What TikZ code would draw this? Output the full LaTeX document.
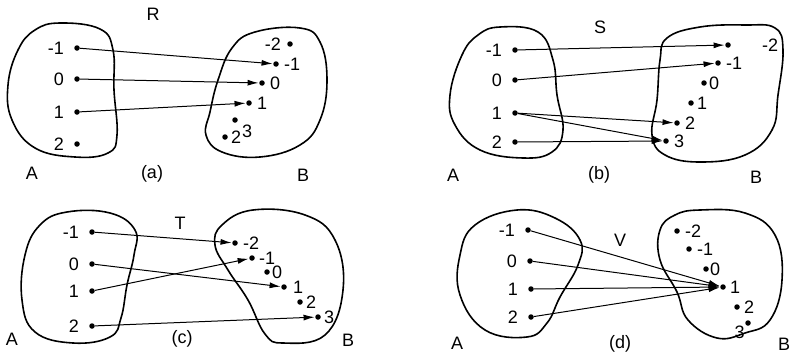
\documentclass[tikz,border=0pt]{standalone}
\usepackage{fontspec}
\setmainfont{Liberation Sans}
\usetikzlibrary{arrows.meta}
\tikzset{
  dot/.style={circle, fill, inner sep=0pt, minimum size=5.5pt},
  lab/.style={inner sep=1pt, font=\fontsize{18}{21}\selectfont},
  blob/.style={line width=1.6pt},
  arr/.style={line width=1pt, -{Latex[length=11pt,width=6pt]}, shorten >=0.5pt},
}
\begin{document}
\begin{tikzpicture}[x=1pt, y=-1pt]
	\useasboundingbox (0,0) rectangle (791,356);
	% set outlines
	\draw[blob] plot[smooth cycle, tension=0.7] coordinates {(60,23) (100,29) (113,50) (114,90) (117,135) (108,153) (75,157) (35,148) (12,120) (8,85) (18,50) (35,30)};
	\draw[blob] plot[smooth cycle, tension=0.7] coordinates {(232,48) (255,32) (300,28) (320,42) (327,80) (320,120) (300,145) (260,157) (222,152) (206,135) (210,112) (218,80)};
	\draw[blob] plot[smooth cycle, tension=0.7] coordinates {(500,27) (538,32) (553,60) (557,95) (563,130) (552,152) (523,158) (480,150) (455,125) (450,95) (462,55) (478,35)};
	\draw[blob] plot[smooth cycle, tension=0.7] coordinates {(667,38) (700,27) (745,25) (775,28) (783,50) (778,95) (772,130) (745,155) (700,162) (665,155) (652,135) (657,100) (660,60)};
	\draw[blob] plot[smooth cycle, tension=0.7] coordinates {(67,212) (110,213) (135,230) (134,255) (127,285) (121,318) (110,337) (73,343) (35,332) (22,300) (25,255) (40,225)};
	\draw[blob] plot[smooth cycle, tension=0.7] coordinates {(253,210) (305,215) (335,240) (343,290) (325,335) (283,343) (265,334) (248,300) (228,270) (215,245) (222,225)};
	\draw[blob] plot[smooth cycle, tension=0.7] coordinates {(517,210) (555,218) (580,240) (578,265) (560,297) (547,323) (527,337) (485,330) (460,295) (460,255) (475,225)};
	\draw[blob] plot[smooth cycle, tension=0.7] coordinates {(700,210) (745,213) (775,235) (782,280) (770,320) (745,333) (717,338) (688,320) (677,292) (660,260) (660,230) (675,215)};
	% points of A
	\foreach \n/\x/\y/\t in {aA1/77/48/-1, aA2/77/79/0, aA3/77/112/1, aA4/77/144/2,
	                         bA1/515/50/-1, bA2/515/80/0, bA3/515/113/1, bA4/515/142/2,
	                         cA1/92/232/-1, cA2/92/264/0, cA3/92/291/1, cA4/92/326/2,
	                         dA1/528/230/-1, dA2/530/261/0, dA3/531/289/1, dA4/531/317/2}
		\node[dot, label={[lab, label distance=9pt]left:\t}] (\n) at (\x,\y) {};
	% points of B
	\foreach \n/\x/\y/\t/\d/\s in {aB1/290/44/-2/left/5, aB2/276/64/-1/right/4, aB3/262/83/0/right/4,
	                               aB4/249/103/1/right/4, aB5/225/137/2/right/2, aB6/235/120/3/-30/4,
	                               bB1/728/45/-2/right/30, bB2/718/63/-1/right/4, bB3/704/83/0/right/1,
	                               bB4/691/103/1/right/2, bB5/677/123/2/right/4, bB6/666/141/3/right/4,
	                               cB1/235/243/-2/right/4, cB2/252/258/-1/right/3, cB3/267/272/0/right/1,
	                               cB4/284/287/1/right/5, cB5/300/302/2/right/2, cB6/318/317/3/right/2,
	                               dB1/677/231/-2/right/4, dB2/689/249/-1/right/4, dB3/706/269/0/right/0,
	                               dB4/723/287/1/right/3, dB5/737/307/2/right/3, dB6/748/323/3/below left/0}
		\node[dot, label={[lab, label distance=\s pt]\d:\t}] (\n) at (\x,\y) {};
	% relations
	\draw[arr] (aA1) -- (aB2);
	\draw[arr] (aA2) -- (aB3);
	\draw[arr] (aA3) -- (aB4);
	\draw[arr] (bA1) -- (bB1);
	\draw[arr] (bA2) -- (bB2);
	\draw[arr] (bA3) -- (bB5);
	\draw[arr] (bA3) -- (bB6);
	\draw[arr] (bA4) -- (bB6);
	\draw[arr] (cA1) -- (cB1);
	\draw[arr] (cA2) -- (cB4);
	\draw[arr] (cA3) -- (cB2);
	\draw[arr] (cA4) -- (cB6);
	\foreach \i in {1,...,4}
		\draw[arr] (dA\i) -- (dB4);
	% names
	\node[lab] (tR) at (153,14) {R};
	\node[lab] (tS) at (600,27) {S};
	\node[lab] (tT) at (180,223) {T};
	\node[lab] (tV) at (620,240) {V};
	\foreach \n/\x/\y/\t in {aA/32/173/A, aC/152/174/(a), aB/303/175/B,
	                         bA/453/175/A, bC/599/175/(b), bB/756/177/B,
	                         cA/12/339/A, cC/182/339/(c), cB/348/340/B,
	                         dA/457/343/A, dC/620/344/(d), dB/784/344/B}
		\node[lab] (n\n) at (\x,\y) {\t};
\end{tikzpicture}
\end{document}
